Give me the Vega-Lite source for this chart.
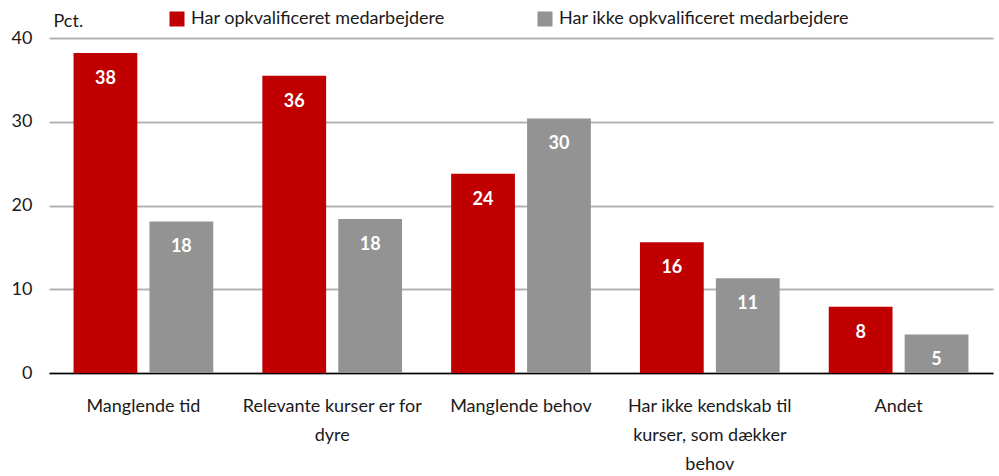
{
  "$schema": "https://vega.github.io/schema/vega-lite/v6.json",
  "width": 944,
  "height": 335,
  "autosize": {"type": "none"},
  "padding": {"left": 49, "top": 38, "right": 6, "bottom": 103},
  "config": {
    "font": "Lato",
    "view": {"stroke": null},
    "axis": {"labelFont": "Lato", "labelFontSize": 18, "labelColor": "#1a1a1a", "titleFont": "Lato"}
  },
  "data": {
    "values": [
      {"arsag": "Manglende tid", "gruppe": "Har opkvalificeret medarbejdere", "pct": 38.2},
      {"arsag": "Manglende tid", "gruppe": "Har ikke opkvalificeret medarbejdere", "pct": 18.1},
      {"arsag": "Relevante kurser er for dyre", "gruppe": "Har opkvalificeret medarbejdere", "pct": 35.5},
      {"arsag": "Relevante kurser er for dyre", "gruppe": "Har ikke opkvalificeret medarbejdere", "pct": 18.4},
      {"arsag": "Manglende behov", "gruppe": "Har opkvalificeret medarbejdere", "pct": 23.8},
      {"arsag": "Manglende behov", "gruppe": "Har ikke opkvalificeret medarbejdere", "pct": 30.4},
      {"arsag": "Har ikke kendskab til kurser, som dækker behov", "gruppe": "Har opkvalificeret medarbejdere", "pct": 15.6},
      {"arsag": "Har ikke kendskab til kurser, som dækker behov", "gruppe": "Har ikke opkvalificeret medarbejdere", "pct": 11.3},
      {"arsag": "Andet", "gruppe": "Har opkvalificeret medarbejdere", "pct": 7.9},
      {"arsag": "Andet", "gruppe": "Har ikke opkvalificeret medarbejdere", "pct": 4.6}
    ]
  },
  "encoding": {
    "x": {
      "field": "arsag", "type": "nominal", "sort": null,
      "scale": {"paddingInner": 0.26, "paddingOuter": 0.13},
      "axis": {
        "title": null, "labelAngle": 0, "ticks": false, "domainColor": "#000000", "domainWidth": 1.5,
        "labelPadding": 24, "labelLineHeight": 29, "labelBaseline": "top",
        "labelExpr": "datum.label == 'Relevante kurser er for dyre' ? ['Relevante kurser er for', 'dyre'] : datum.label == 'Har ikke kendskab til kurser, som dækker behov' ? ['Har ikke kendskab til', 'kurser, som dækker', 'behov'] : datum.label"
      }
    },
    "xOffset": {
      "field": "gruppe", "type": "nominal",
      "sort": ["Har opkvalificeret medarbejdere", "Har ikke opkvalificeret medarbejdere"],
      "scale": {"paddingInner": 0.16, "paddingOuter": 0}
    },
    "y": {
      "field": "pct", "type": "quantitative",
      "scale": {"domain": [0, 40]},
      "axis": {
        "values": [0, 10, 20, 30, 40], "ticks": false, "domain": false,
        "gridColor": "#b3b3b3", "gridWidth": 2, "labelPadding": 17,
        "title": "Pct.", "titleAngle": 0, "titleAlign": "left", "titleBaseline": "alphabetic",
        "titleX": 4, "titleY": -12, "titleFontSize": 18, "titleFontWeight": "normal", "titleColor": "#1a1a1a"
      }
    }
  },
  "layer": [
    {
      "mark": {"type": "bar"},
      "encoding": {
        "color": {
          "field": "gruppe", "type": "nominal",
          "sort": ["Har opkvalificeret medarbejdere", "Har ikke opkvalificeret medarbejdere"],
          "scale": {"range": ["#c00000", "#939393"]},
          "legend": {
            "title": null, "orient": "none", "direction": "horizontal",
            "legendX": 119, "legendY": -28, "symbolType": "square", "symbolSize": 225,
            "symbolStrokeWidth": 0, "symbolOpacity": 1, "labelFontSize": 18, "labelFont": "Lato", "labelColor": "#1a1a1a",
            "columnPadding": 91, "labelOffset": 5, "labelLimit": 400
          }
        }
      }
    },
    {
      "mark": {"type": "text", "baseline": "middle", "dy": 26, "color": "white", "fontWeight": "bold", "fontSize": 18, "font": "Lato"},
      "encoding": {
        "text": {"field": "pct", "type": "quantitative", "format": ".0f"}
      }
    }
  ]
}
